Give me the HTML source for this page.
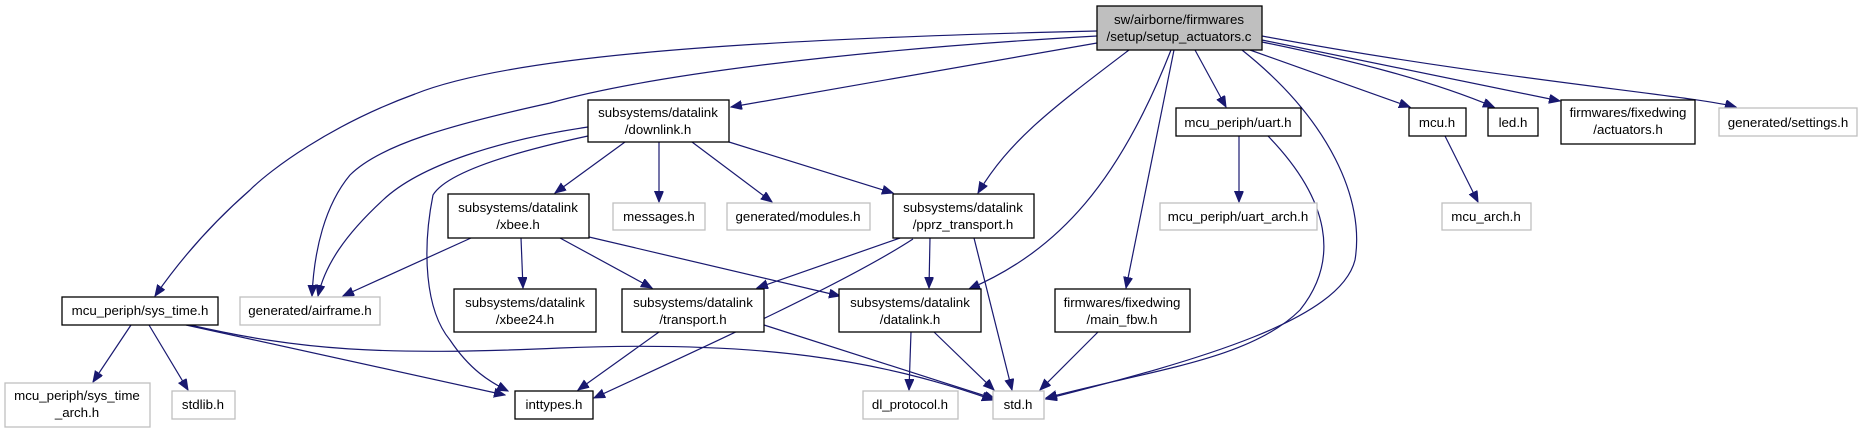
<!DOCTYPE html>
<html><head><meta charset="utf-8"><style>
html,body{margin:0;padding:0;background:#fff;width:1863px;height:429px;overflow:hidden}
text{font-family:"Liberation Sans",sans-serif;font-size:13.3px;fill:#000;text-anchor:middle}
.b{fill:#fff;stroke:#000;stroke-width:1.3}
.g{fill:#fff;stroke:#bfbfbf;stroke-width:1.3}
.e{fill:none;stroke:#191970;stroke-width:1.2}
</style></head><body>
<svg width="1863" height="429" viewBox="0 0 1863 429" xmlns="http://www.w3.org/2000/svg">
<defs><marker id="a" markerWidth="12" markerHeight="10" refX="11" refY="4.5" orient="auto" markerUnits="userSpaceOnUse"><path d="M0,0 L11,4.5 L0,9 Z" fill="#191970" stroke="#191970"/></marker></defs>
<g marker-end="url(#a)">
<path class="e" d="M1097,31 C700,40 500,60 415,94 C330,125 270,170 250,190 C210,225 180,260 155,296"/>
<path class="e" d="M1097,36 C850,50 650,75 550,103 C450,125 380,145 350,175 C325,205 314,250 312,296"/>
<path class="e" d="M1097,43 L731,107"/>
<path class="e" d="M1129,50 C1050,110 1010,140 978,193"/>
<path class="e" d="M1171,50 C1120,180 1060,250 969,289"/>
<path class="e" d="M1174,50 L1126,288"/>
<path class="e" d="M1195,50 L1226,107"/>
<path class="e" d="M1242,50 C1330,120 1365,200 1355,260 C1340,320 1200,360 1046,399"/>
<path class="e" d="M1250,50 L1410,107"/>
<path class="e" d="M1262,42 C1350,60 1430,80 1494,107"/>
<path class="e" d="M1262,40 L1560,101"/>
<path class="e" d="M1262,36 C1500,80 1690,95 1736,107"/>
<path class="e" d="M588,127 C500,140 420,165 383,200 C345,235 325,265 318,296"/>
<path class="e" d="M588,136 C500,155 445,175 433,195 C422,250 425,310 450,340 C470,370 490,382 508,391"/>
<path class="e" d="M625,142 L555,193"/>
<path class="e" d="M659,142 L659,202"/>
<path class="e" d="M692,142 L772,202"/>
<path class="e" d="M729,142 L893,193"/>
<path class="e" d="M471,238 L343,296"/>
<path class="e" d="M521,238 L523,288"/>
<path class="e" d="M560,238 L652,288"/>
<path class="e" d="M589,237 L840,296"/>
<path class="e" d="M900,238 L757,288"/>
<path class="e" d="M913,239 C850,280 720,340 594,398"/>
<path class="e" d="M930,238 L929,288"/>
<path class="e" d="M974,238 L1012,390"/>
<path class="e" d="M659,332 L578,390"/>
<path class="e" d="M764,325 L995,399"/>
<path class="e" d="M911,332 L909,390"/>
<path class="e" d="M934,332 L994,390"/>
<path class="e" d="M131,325 L93,382"/>
<path class="e" d="M149,325 L188,390"/>
<path class="e" d="M186,325 L505,395"/>
<path class="e" d="M190,325 C300,350 380,356 560,348 C760,340 880,360 993,400"/>
<path class="e" d="M1239,136 L1239,202"/>
<path class="e" d="M1268,136 C1330,200 1340,260 1300,310 C1250,360 1150,370 1046,398"/>
<path class="e" d="M1445,136 L1478,202"/>
<path class="e" d="M1098,332 L1040,390"/>
</g>
<rect x="1097" y="6" width="165" height="44" fill="#bfbfbf" stroke="#000" stroke-width="1.3"/>
<text x="1179" y="24">sw/airborne/firmwares</text><text x="1179" y="41">/setup/setup_actuators.c</text>
<rect class="b" x="588" y="100" width="141" height="42"/><text x="658" y="117">subsystems/datalink</text><text x="658" y="134">/downlink.h</text>
<rect class="b" x="1176" y="108" width="125" height="28"/><text x="1238" y="127">mcu_periph/uart.h</text>
<rect class="b" x="1409" y="108" width="57" height="28"/><text x="1437" y="127">mcu.h</text>
<rect class="b" x="1488" y="108" width="50" height="28"/><text x="1513" y="127">led.h</text>
<rect class="b" x="1561" y="100" width="134" height="44"/><text x="1628" y="117">firmwares/fixedwing</text><text x="1628" y="134">/actuators.h</text>
<rect class="g" x="1719" y="108" width="138" height="28"/><text x="1788" y="127">generated/settings.h</text>
<rect class="b" x="448" y="194" width="141" height="44"/><text x="518" y="212">subsystems/datalink</text><text x="518" y="229">/xbee.h</text>
<rect class="g" x="613" y="203" width="92" height="27"/><text x="659" y="221">messages.h</text>
<rect class="g" x="727" y="203" width="143" height="27"/><text x="798" y="221">generated/modules.h</text>
<rect class="b" x="893" y="194" width="141" height="44"/><text x="963" y="212">subsystems/datalink</text><text x="963" y="229">/pprz_transport.h</text>
<rect class="g" x="1160" y="203" width="157" height="27"/><text x="1238" y="221">mcu_periph/uart_arch.h</text>
<rect class="g" x="1442" y="203" width="89" height="27"/><text x="1486" y="221">mcu_arch.h</text>
<rect class="b" x="62" y="297" width="156" height="28"/><text x="140" y="315">mcu_periph/sys_time.h</text>
<rect class="g" x="240" y="297" width="140" height="28"/><text x="310" y="315">generated/airframe.h</text>
<rect class="b" x="454" y="289" width="142" height="43"/><text x="525" y="307">subsystems/datalink</text><text x="525" y="324">/xbee24.h</text>
<rect class="b" x="622" y="289" width="142" height="43"/><text x="693" y="307">subsystems/datalink</text><text x="693" y="324">/transport.h</text>
<rect class="b" x="839" y="289" width="142" height="43"/><text x="910" y="307">subsystems/datalink</text><text x="910" y="324">/datalink.h</text>
<rect class="b" x="1055" y="289" width="135" height="43"/><text x="1122" y="307">firmwares/fixedwing</text><text x="1122" y="324">/main_fbw.h</text>
<rect class="g" x="5" y="383" width="145" height="44"/><text x="77" y="400">mcu_periph/sys_time</text><text x="77" y="417">_arch.h</text>
<rect class="g" x="172" y="391" width="63" height="28"/><text x="203" y="409">stdlib.h</text>
<rect class="b" x="515" y="391" width="78" height="28"/><text x="554" y="409">inttypes.h</text>
<rect class="g" x="863" y="391" width="95" height="28"/><text x="910" y="409">dl_protocol.h</text>
<rect class="g" x="993" y="391" width="51" height="28"/><text x="1018" y="409">std.h</text>
</svg>
</body></html>
